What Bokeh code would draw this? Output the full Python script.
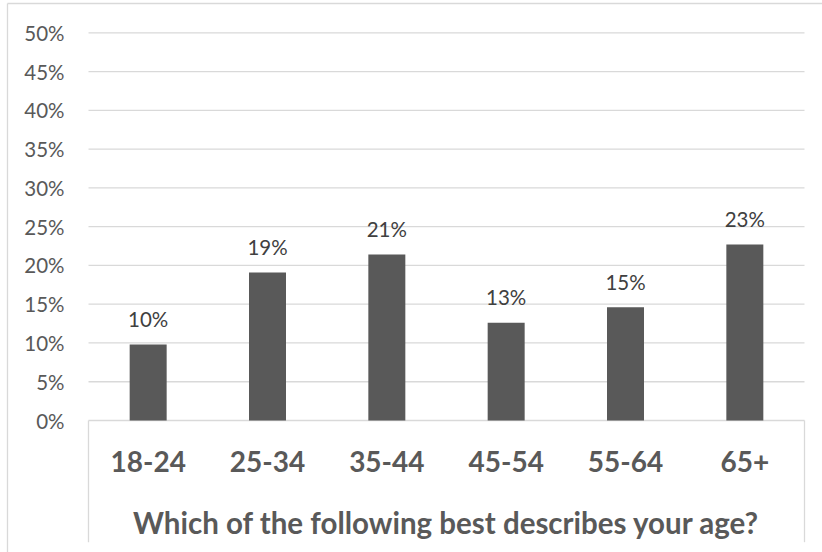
from bokeh.plotting import figure
from bokeh.models import Range1d
from bokeh.core.properties import value
from bokeh.embed import file_html
from bokeh.resources import INLINE

# ---- data ----
categories = ["18-24", "25-34", "35-44", "45-54", "55-64", "65+"]
shares = [9.8, 19.1, 21.4, 12.6, 14.6, 22.7]          # percent
share_labels = ["10%", "19%", "21%", "13%", "15%", "23%"]
y_ticks = [0, 5, 10, 15, 20, 25, 30, 35, 40, 45, 50]
y_tick_labels = ["0%", "5%", "10%", "15%", "20%", "25%", "30%", "35%", "40%", "45%", "50%"]
axis_title = "Which of the following best describes your age?"

# ---- layout (pixels) ----
W, H = 822, 552
PLOT_L, PLOT_R = 88, 804
ZERO_Y, TOP_Y = 420, 32.3
slot = (PLOT_R - PLOT_L) / len(categories)
pp = (ZERO_Y - TOP_Y) / 50.0  # px per percent

def dx(px):
    return (px - PLOT_L) / slot - 0.5

def dy(py):
    return (ZERO_Y - py) / pp

p = figure(width=W, height=H, output_backend="svg", toolbar_location=None,
           x_range=Range1d(dx(0), dx(W)), y_range=Range1d(dy(H), dy(0)),
           x_axis_location=None, y_axis_location=None, min_border=0)
p.outline_line_color = None
p.xgrid.visible = False
p.ygrid.visible = False
p.background_fill_color = "white"
p.border_fill_color = "white"

idx = list(range(len(categories)))
GRID = "#d9d9d9"
FONT = value("Lato")

# outer chart border (left and top)
p.segment(x0=[dx(7), dx(7)], y0=[dy(3), dy(3)], x1=[dx(7), dx(W + 5)], y1=[dy(H + 5), dy(3)],
          line_color=GRID, line_width=1.3)

# gridlines
p.segment(x0=[-0.5] * len(y_ticks), x1=[len(categories) - 0.5] * len(y_ticks),
          y0=y_ticks, y1=y_ticks, line_color=GRID, line_width=1.3)

# category box vertical lines
p.segment(x0=[-0.5, len(categories) - 0.5], x1=[-0.5, len(categories) - 0.5],
          y0=[0, 0], y1=[dy(541.7)] * 2, line_color=GRID, line_width=1.3)

# bars
p.vbar(x=idx, top=shares, bottom=0, width=0.31, fill_color="#595959", line_color=None)

# value labels
p.text(x=idx, y=shares, text=share_labels, y_offset=-25.5, text_align="center",
       text_baseline="middle", text_font=FONT, text_font_size="20.5px", text_color="#404040")

# y tick labels
p.text(x=[-0.5] * len(y_ticks), y=y_ticks, text=y_tick_labels, x_offset=-24,
       text_align="right", text_baseline="middle", text_font=FONT,
       text_font_size="20.5px", text_color="#595959")

# category labels
p.text(x=idx, y=[0] * len(idx), text=categories, y_offset=41, text_align="center",
       text_baseline="middle", text_font=FONT, text_font_style="bold",
       text_font_size="28px", text_color="#595959")

# axis title
p.text(x=[(len(categories) - 1) / 2], y=[0], text=[axis_title], y_offset=102,
       text_align="center", text_baseline="middle", text_font=FONT,
       text_font_style="bold", text_font_size="29.5px", text_color="#595959")

open("out.html", "w").write(file_html(p, INLINE))
